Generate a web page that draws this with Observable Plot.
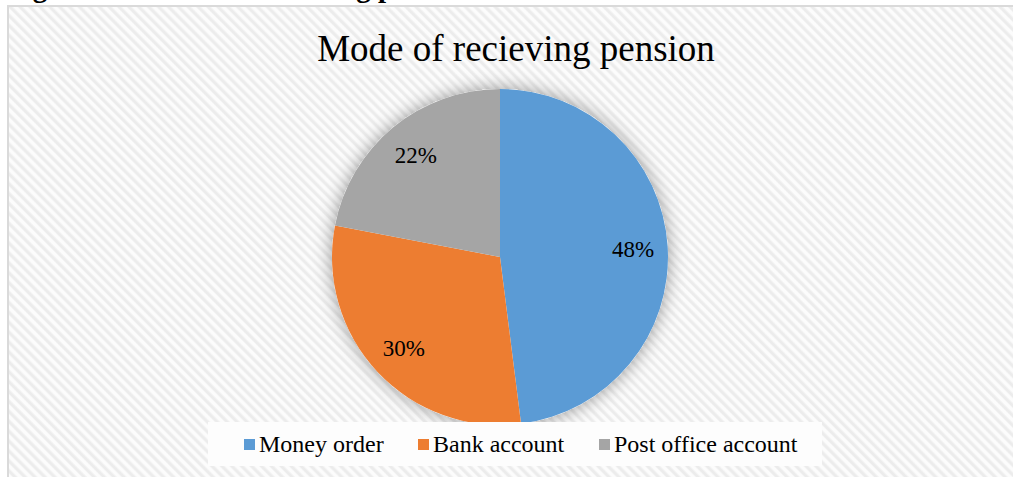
<!DOCTYPE html>
<html>
<head>
<meta charset="utf-8">
<script src="https://cdn.jsdelivr.net/npm/d3@7"></script>
<script src="https://cdn.jsdelivr.net/npm/@observablehq/plot@0.6"></script>
<style>
  html, body { margin: 0; padding: 0; width: 1013px; height: 477px; overflow: hidden; background: #fff;
    font-family: "Liberation Serif", "Times New Roman", serif; color: #000; }
  #caption { position: absolute; left: 7px; top: -27px; font-size: 29px; line-height: 29px; font-weight: bold; white-space: nowrap; }
  #frame { position: absolute; left: 7px; top: 5px; width: 1020px; height: 480px;
    border-top: 2px solid #dadada; border-left: 2px solid #dadada;
    background: repeating-linear-gradient(45deg, #fcfcfc 0px, #fcfcfc 2px, #ececec 3.5px, #ececec 5px, #fcfcfc 7px); }
  #title { position: absolute; left: 0; top: 30px; width: 1032px; text-align: center; font-size: 37px; line-height: 37px; white-space: nowrap; }
  #pie { position: absolute; left: 300px; top: 57px; }
  #pie svg { overflow: visible; background: transparent; }
  #legend { position: absolute; left: 208px; top: 422px; width: 614px; height: 44px; background: #fdfdfd; }
  .item { position: absolute; top: 10px; height: 24px; display: flex; align-items: center; font-size: 24px; line-height: 24px; white-space: nowrap; }
  .swatch { width: 11px; height: 11px; margin-right: 4px; margin-top: 1px; }
</style>
</head>
<body>
<div id="caption">Figure 4.2: Mode of receiving pension</div>
<div id="frame"></div>
<div id="title">Mode of recieving pension</div>
<div id="pie"></div>
<div id="legend"></div>
<script>
// Modes of receiving pension and their share of respondents (%)
const categories = ["Money order", "Bank account", "Post office account"];
const shares = [48, 30, 22];
const labels = ["48%", "30%", "22%"];
const colors = ["#5B9BD5", "#ED7D31", "#A5A5A5"];
const legendX = [36, 210, 391];

const table = categories.map((name, i) => ({name, share: shares[i], label: labels[i]}));

// Slice angles, clockwise from 12 o'clock in data order
const slices = d3.pie().sort(null).value(d => d.share)(table);
const labelRadius = 0.79;
const labelData = slices.map(s => {
  const mid = (s.startAngle + s.endAngle) / 2;
  return {...s.data, lx: labelRadius * Math.sin(mid), ly: labelRadius * Math.cos(mid)};
});

// Wedges drawn in the plot's own x/y frame (unit circle)
function wedges(index, {x, y}) {
  const cx = x(0), cy = y(0), r = x(1) - x(0);
  const g = d3.create("svg:g");
  const defs = g.append("defs");
  const f = defs.append("filter").attr("id", "halo").attr("x", "-30%").attr("y", "-30%").attr("width", "160%").attr("height", "160%");
  f.append("feDropShadow").attr("dx", 0).attr("dy", 0).attr("stdDeviation", 9)
    .attr("flood-color", "#000").attr("flood-opacity", 0.4);
  const root = g.append("g").attr("transform", `translate(${cx},${cy})`);
  root.append("circle").attr("r", r).attr("fill", "#fff").attr("filter", "url(#halo)");
  const arc = d3.arc().innerRadius(0).outerRadius(r);
  root.selectAll("path").data(slices).join("path")
    .attr("d", arc)
    .attr("fill", (d, i) => colors[i]);
  return g.node();
}

const chart = Plot.plot({
  width: 400,
  height: 400,
  margin: 32,
  x: {domain: [-1, 1], axis: null},
  y: {domain: [-1, 1], axis: null},
  style: {background: "transparent", overflow: "visible"},
  marks: [
    wedges,
    Plot.text(labelData, {
      x: "lx", y: "ly", text: "label",
      fontSize: 23, fill: "#000",
      fontFamily: "Liberation Serif, Times New Roman, serif"
    })
  ]
});
document.getElementById("pie").appendChild(chart);

// Legend entries
const legend = d3.select("#legend");
categories.forEach((name, i) => {
  const item = legend.append("div").attr("class", "item").style("left", legendX[i] + "px");
  item.append("div").attr("class", "swatch").style("background", colors[i]);
  item.append("span").text(name);
});
</script>
</body>
</html>
